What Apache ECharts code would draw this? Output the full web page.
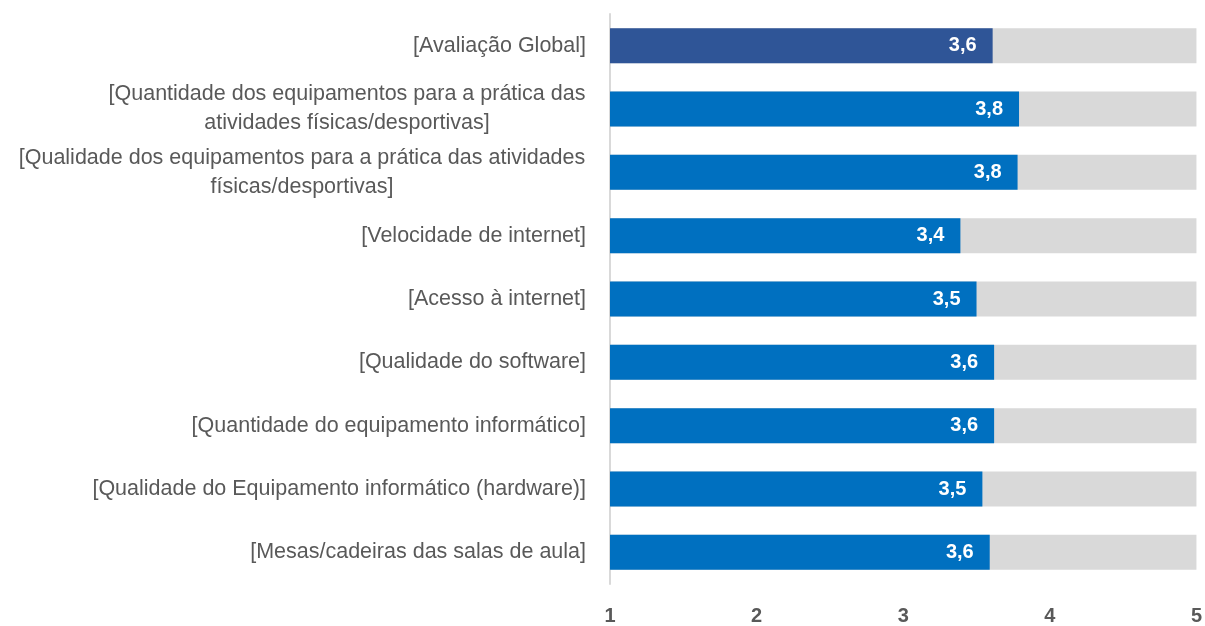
<!DOCTYPE html>
<html>
<head>
<meta charset="utf-8">
<script src="https://cdn.jsdelivr.net/npm/echarts@6/dist/echarts.min.js"></script>
<style>
  html, body { margin: 0; padding: 0; background: #fff; }
  #chart { width: 1205px; height: 626px; }
</style>
</head>
<body>
<div id="chart"></div>
<script>
const categories = [
    '[Avaliação Global]',
    '[Quantidade dos equipamentos para a prática das\natividades físicas/desportivas]',
    '[Qualidade dos equipamentos para a prática das atividades\nfísicas/desportivas]',
    '[Velocidade de internet]',
    '[Acesso à internet]',
    '[Qualidade do software]',
    '[Quantidade do equipamento informático]',
    '[Qualidade do Equipamento informático (hardware)]',
    '[Mesas/cadeiras das salas de aula]'
];
const values = [3.61, 3.79, 3.78, 3.39, 3.50, 3.62, 3.62, 3.54, 3.59];
const xTicks = [1, 2, 3, 4, 5];

const FONT = "'Liberation Sans Narrow', 'Arial Narrow', 'Liberation Sans', Arial, sans-serif";
const LABEL_SIZE = 21.5;
const LINE_H = 29;

// measure text so wrapped labels can be centred inside a right-aligned block
const ctx = document.createElement('canvas').getContext('2d');
ctx.font = LABEL_SIZE + 'px ' + FONT;
function textWidth(s) { return Math.ceil(ctx.measureText(s).width) + 1; }

const rich = {};
categories.forEach((c, i) => {
    const lines = c.split('\n');
    if (lines.length > 1) {
        rich['c' + i] = {
            color: '#595959',
            fontFamily: FONT,
            fontSize: LABEL_SIZE,
            lineHeight: LINE_H,
            align: 'center',
            width: Math.max.apply(null, lines.map(textWidth))
        };
    }
});

const myChart = echarts.init(document.getElementById('chart'));

const option = {
    animation: false,
    grid: {
        left: 610,
        right: 6,
        top: 14,
        height: 574,
        containLabel: false
    },
    xAxis: {
        type: 'value',
        min: 1,
        max: 5,
        interval: 1,
        splitLine: { show: false },
        axisLine: { show: false },
        axisTick: { show: false },
        axisLabel: {
            margin: 22,
            color: '#595959',
            fontFamily: FONT,
            fontWeight: 'bold',
            fontSize: 20,
            formatter: v => xTicks.includes(v) ? String(v) : ''
        }
    },
    yAxis: {
        type: 'category',
        inverse: true,
        data: categories,
        axisLine: { show: true, lineStyle: { color: '#D9D9D9', width: 2 } },
        axisTick: { show: false },
        axisLabel: {
            margin: 24,
            color: '#595959',
            fontFamily: FONT,
            fontSize: LABEL_SIZE,
            lineHeight: LINE_H,
            formatter: function (val, idx) {
                const lines = val.split('\n');
                if (lines.length === 1) return val;
                return lines.map(l => '{c' + idx + '|' + l + '}').join('\n');
            },
            rich: rich
        }
    },
    series: [
        {
            type: 'bar',
            data: values.map((v, i) => ({
                value: v,
                itemStyle: { color: i === 0 ? '#2F5597' : '#0070C0' }
            })),
            barWidth: 35,
            showBackground: true,
            backgroundStyle: { color: '#D9D9D9' },
            label: {
                show: true,
                position: 'insideRight',
                distance: 16,
                color: '#fff',
                fontFamily: FONT,
                fontWeight: 'bold',
                fontSize: 20,
                formatter: p => p.value.toFixed(1).replace('.', ',')
            }
        }
    ]
};

myChart.setOption(option);
</script>
</body>
</html>
